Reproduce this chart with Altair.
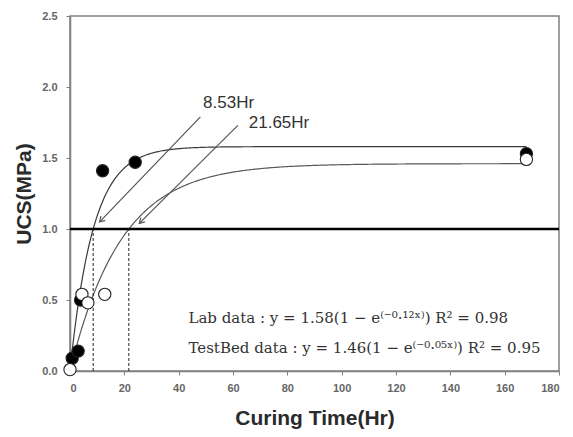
import altair as alt
import pandas as pd
import numpy as np

# ---- data ----
series_names = ["Lab data", "TestBed data"]
lab_x = [0.8, 3.0, 3.9, 12, 24, 168]
lab_y = [0.09, 0.14, 0.50, 1.41, 1.47, 1.53]
tb_x = [0, 4.4, 6.6, 12.8, 168]
tb_y = [0.01, 0.54, 0.48, 0.54, 1.49]

# fitted curves y = a(1 - exp(-b x)), b tuned so curves cross 1.0 at the quoted times
fit_a = [1.58, 1.46]
fit_b = [0.1175, 0.0533]
fit_end = 168

threshold = 1.0
cross_x = [8.53, 21.65]
arrow_labels = ["8.53Hr", "21.65Hr"]
arrow_start_x = [48.0, 61.8]
arrow_start_y = [1.79, 1.73]
arrow_tip_x = [10.9, 25.5]
arrow_tip_y = [1.05, 1.04]
label_x = [49.0, 65.8]
label_y = [1.89, 1.75]

eq_texts = [
    "Lab data : y = 1.58(1 − e⁽⁻⁰·¹²ˣ⁾)  R² = 0.98",
    "TestBed data : y = 1.46(1 − e⁽⁻⁰·⁰⁵ˣ⁾)  R² = 0.95",
]
eq_x = [43.6, 43.6]
eq_y = [0.37, 0.16]

x_ticks = list(range(0, 181, 20))
y_ticks = [0.0, 0.5, 1.0, 1.5, 2.0, 2.5]

W, H = 489, 355
X_DOM, Y_DOM = [0, 180], [0, 2.5]

# ---- tables ----
pts = pd.DataFrame(
    {"x": lab_x + tb_x,
     "y": lab_y + tb_y,
     "series": [series_names[0]] * len(lab_x) + [series_names[1]] * len(tb_x)}
)

grid = np.linspace(0, fit_end, 337)
curves = pd.concat(
    [pd.DataFrame({"x": grid, "y": a * (1 - np.exp(-b * grid)), "series": s})
     for a, b, s in zip(fit_a, fit_b, series_names)]
)

cross = pd.DataFrame({"x": cross_x, "y": [0.0] * len(cross_x), "y2": [threshold] * len(cross_x)})

px_per_x = W / (X_DOM[1] - X_DOM[0])
px_per_y = H / (Y_DOM[1] - Y_DOM[0])
angles = [
    float(np.degrees(np.arctan2(-(ty - sy) * px_per_y, (tx - sx) * px_per_x)))
    for sx, sy, tx, ty in zip(arrow_start_x, arrow_start_y, arrow_tip_x, arrow_tip_y)
]
arrows = pd.DataFrame({
    "x": arrow_start_x, "y": arrow_start_y, "x2": arrow_tip_x, "y2": arrow_tip_y,
    "tx": arrow_tip_x, "ty": arrow_tip_y, "angle": angles,
    "lx": label_x, "ly": label_y, "label": arrow_labels,
})
eqs = pd.DataFrame({"x": eq_x, "y": eq_y, "text": eq_texts})

# ---- scales / axes ----
xs = alt.Scale(domain=X_DOM, nice=False, zero=False)
ys = alt.Scale(domain=Y_DOM, nice=False, zero=False)
xaxis = alt.Axis(title="Curing Time(Hr)", values=x_ticks, format="d", grid=False)
yaxis = alt.Axis(title="UCS(MPa)", values=y_ticks, format=".1f", grid=False)


def X(f):
    return alt.X(f, type="quantitative", scale=xs, axis=xaxis)


def Y(f):
    return alt.Y(f, type="quantitative", scale=ys, axis=yaxis)


curve_layer = alt.Chart(curves).mark_line(strokeWidth=1.2, clip=True).encode(
    x=X("x"), y=Y("y"),
    color=alt.Color("series:N", scale=alt.Scale(domain=series_names, range=["#3a3a3a", "#5a5a5a"]),
                    legend=None),
)

thresh_layer = alt.Chart(pd.DataFrame({"y": [threshold]})).mark_rule(
    color="black", strokeWidth=2.5
).encode(y=Y("y"))

cross_layer = alt.Chart(cross).mark_rule(
    color="#222222", strokeWidth=1, strokeDash=[3, 2]
).encode(x=X("x"), y=Y("y"), y2="y2")

arrow_lines = alt.Chart(arrows).mark_rule(color="#555555", strokeWidth=1.2).encode(
    x=X("x"), y=Y("y"), x2="x2", y2="y2"
)
arrow_heads = alt.Chart(arrows).mark_point(
    shape="M -1 -0.6 L 0 0 L -1 0.6", filled=False, color="#555555",
    strokeWidth=1.2, size=100, opacity=1
).encode(x=X("tx"), y=Y("ty"), angle=alt.Angle("angle:Q", scale=None))
arrow_text = alt.Chart(arrows).mark_text(
    align="left", baseline="middle", font="Liberation Sans", fontSize=17, color="#333333"
).encode(x=X("lx"), y=Y("ly"), text="label:N")

points = alt.Chart(pts).mark_point(
    filled=False, size=150, strokeWidth=1.1, stroke="#222222", opacity=1, shape="circle"
).encode(
    x=X("x"), y=Y("y"),
    fill=alt.Fill(
        "series:N",
        scale=alt.Scale(domain=series_names, range=["black", "white"]),
        legend=alt.Legend(
            orient="none", legendX=40, legendY=26, title=None,
            symbolType="circle", symbolSize=150, symbolStrokeColor="#222222",
            symbolStrokeWidth=1.1, labelFont="Liberation Sans", labelFontSize=16,
            labelColor="#333333", labelOffset=19, rowPadding=6,
        ),
    ),
    order=alt.Order("series:N"),
)

eq_layer = alt.Chart(eqs).mark_text(
    align="left", baseline="middle", font="DejaVu Serif", fontSize=15, color="#333333"
).encode(x=X("x"), y=Y("y"), text="text:N")

chart = alt.layer(
    curve_layer, thresh_layer, cross_layer, arrow_lines, arrow_heads, arrow_text,
    points, eq_layer
).properties(
    width=W, height=H,
    autosize=alt.AutoSizeParams(type="none"),
    padding={"left": 62, "top": 8, "right": 6, "bottom": 58},
).configure_view(
    stroke="#808080", strokeWidth=1.5
).configure_axis(
    domainColor="#808080", domainWidth=1.5, tickColor="#808080", tickSize=4,
    labelFont="Liberation Sans", labelFontSize=11, labelFontWeight="bold",
    labelColor="#666666",
    titleFont="Liberation Sans", titleFontWeight="bold",
    titleColor="#2a2a2a",
).configure_axisY(
    labelPadding=9, titlePadding=7, titleFontSize=21
).configure_axisX(
    labelPadding=7, titlePadding=14, titleFontSize=21
)

chart.save("out.html", embed_options={"renderer": "svg", "actions": False})
